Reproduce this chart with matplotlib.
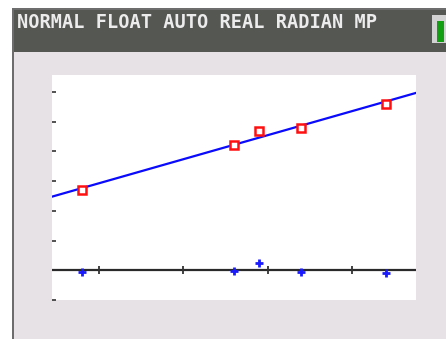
import numpy as np
import matplotlib.pyplot as plt
from matplotlib.patches import Rectangle

# stat data (L1, L2)
L1 = [8, 26, 29, 34, 44]
L2 = [27, 42, 47, 48, 56]

# window settings
Xmin, Xmax, Xscl = 4.4, 47.6, 10
Ymin, Ymax, Yscl = -10, 65.7, 10

status = 'NORMAL FLOAT AUTO REAL RADIAN MP'

x = np.array(L1, dtype=float)
y = np.array(L2, dtype=float)
b, a = np.polyfit(x, y, 1)          # LinReg(ax+b)
resid = y - (a + b * x)

W, H = 446, 339
fig = plt.figure(figsize=(W / 100, H / 100), dpi=100, facecolor='white')

##### screen chrome #####
bg = fig.add_axes([0, 0, 1, 1])
bg.set_xlim(0, W)
bg.set_ylim(H, 0)
bg.axis('off')
bg.add_patch(Rectangle((12, 8), W - 12, H - 8, facecolor='#6d6d6d', edgecolor='none'))
bg.add_patch(Rectangle((14, 10), W - 14, H - 10, facecolor='#e6e2e5', edgecolor='none'))
bg.add_patch(Rectangle((14, 10), W - 14, 42, facecolor='#555753', edgecolor='none'))
bg.text(17, 22, status, family='DejaVu Sans Mono', fontweight='bold', fontsize=13.4,
        color='#ececec', va='center', ha='left')
# battery
bg.add_patch(Rectangle((432, 15), 16, 28, facecolor='#d2d2d2', edgecolor='none'))
bg.add_patch(Rectangle((437, 21), 7, 21, facecolor='#12a012', edgecolor='none'))

##### graph screen #####
ax = fig.add_axes([52 / W, 1 - 300 / H, 364 / W, 225 / H])
ax.set_facecolor('white')
for s in ax.spines.values():
    s.set_visible(False)
ax.set_xlim(Xmin, Xmax)
ax.set_ylim(Ymin, Ymax)

# y-axis is off screen, so its ticks sit on the left edge
ax.set_xticks([])
ax.set_yticks(np.arange(Ymin, Ymax, Yscl))
ax.tick_params(axis='y', direction='in', length=3, width=1.2, color='#333333',
               labelleft=False, pad=0)

# x-axis with tick marks
ax.axhline(0, color='#2a2a2a', lw=1.6, zorder=2)
xt = np.arange(Xscl, Xmax, Xscl)
ax.plot(xt, np.zeros_like(xt), ls='none', marker='|', ms=6, mew=1.3,
        color='#333333', zorder=3)

# regression line
xs = np.array([Xmin, Xmax])
ax.plot(xs, a + b * xs, color='#0a0aff', lw=1.6, zorder=4)

# Plot1: scatter, Plot2: residuals
ax.plot(x, y, ls='none', marker='s', ms=6, mfc='white', mec='#ff1010',
        mew=1.8, zorder=5)
ax.plot(x, resid, ls='none', marker='+', ms=6, mew=2, color='#1a1aff', zorder=5)

plt.savefig('out.png', dpi=100, facecolor='white')
